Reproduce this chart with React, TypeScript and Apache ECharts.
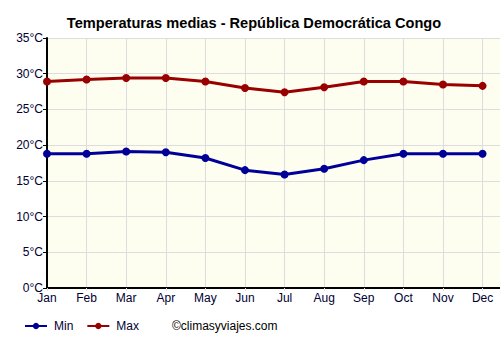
import React, { useEffect, useRef } from "react";
import * as echarts from "echarts";

const months = ["Jan", "Feb", "Mar", "Apr", "May", "Jun", "Jul", "Aug", "Sep", "Oct", "Nov", "Dec"];
const minTemps = [18.8, 18.8, 19.1, 19.0, 18.2, 16.5, 15.9, 16.7, 17.9, 18.8, 18.8, 18.8];
const maxTemps = [28.9, 29.2, 29.4, 29.4, 28.9, 28.0, 27.4, 28.1, 28.9, 28.9, 28.5, 28.3];
const yTicks = [0, 5, 10, 15, 20, 25, 30, 35];

export default function App() {
  const ref = useRef<HTMLDivElement>(null);
  useEffect(() => {
    document.body.style.margin = "0";
    const chart = echarts.init(ref.current!, null, { renderer: "svg" });
    const font = "Arial, 'Liberation Sans', sans-serif";
    chart.setOption({
      animation: false,
      backgroundColor: "#ffffff",
      title: {
        text: "Temperaturas medias - República Democrática Congo",
        left: 249,
        textAlign: "center",
        top: 10,
        textStyle: { fontFamily: font, fontSize: 14.6, fontWeight: "bold", color: "#000000" },
      },
      grid: {
        left: 47,
        right: 0,
        top: 38,
        bottom: 62,
        show: true,
        backgroundColor: "#fefef0",
        borderWidth: 0,
      },
      xAxis: {
        type: "value",
        min: 0,
        max: 11.44,
        interval: 1,
        axisLine: { show: true, lineStyle: { color: "#000000", width: 2 } },
        axisTick: { show: true, length: 3, lineStyle: { color: "#dddddd" } },
        axisLabel: {
          showMaxLabel: false,
          fontFamily: font,
          fontSize: 12,
          color: "#000033",
          margin: 4,
          formatter: (v: number) => (Number.isInteger(v) && v >= 0 && v < 12 ? months[v] : ""),
        },
        splitLine: { show: true, lineStyle: { color: "#dddddd", width: 1 } },
      },
      yAxis: {
        type: "value",
        min: yTicks[0],
        max: yTicks[yTicks.length - 1],
        interval: 5,
        axisLine: { show: true, lineStyle: { color: "#000000", width: 2 } },
        axisTick: { show: true, length: 4, lineStyle: { color: "#000000" } },
        axisLabel: {
          fontFamily: font,
          fontSize: 12,
          color: "#000033",
          margin: 4,
          formatter: (v: number) => v + "°C",
        },
        splitLine: { show: true, lineStyle: { color: "#dddddd", width: 1 } },
      },
      legend: {
        left: 24,
        top: 320,
        itemWidth: 22,
        itemHeight: 8,
        itemGap: 13,
        textStyle: { fontFamily: font, fontSize: 12, color: "#000033", padding: [0, 0, 0, 2] },
        data: ["Min", "Max"],
        padding: 0,
      },
      graphic: [
        {
          type: "text",
          left: 172,
          top: 320,
          style: { text: "©climasyviajes.com", fontFamily: font, fontSize: 12, fill: "#000000" },
        },
      ],
      series: [
        {
          name: "Min",
          type: "line",
          data: minTemps.map((v, i) => [i, v]),
          color: "#000099",
          lineStyle: { width: 3, color: "#000099" },
          symbol: "circle",
          symbolSize: 8,
          itemStyle: { color: "#000099" },
        },
        {
          name: "Max",
          type: "line",
          data: maxTemps.map((v, i) => [i, v]),
          color: "#990000",
          lineStyle: { width: 3, color: "#990000" },
          symbol: "circle",
          symbolSize: 8,
          itemStyle: { color: "#990000" },
        },
      ],
    });
    return () => chart.dispose();
  }, []);
  return <div ref={ref} style={{ width: 500, height: 350 }} />;
}
